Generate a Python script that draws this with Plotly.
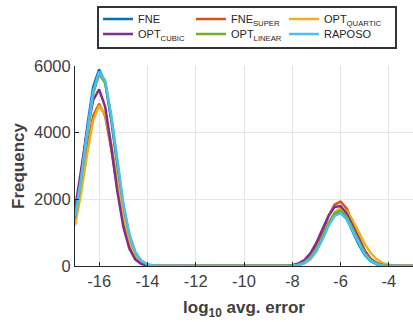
import plotly.graph_objects as go

# x bins: log10 avg. error, -17 to -3 in steps of 0.25 (57 points)
x_vals = [-17.0, -16.75, -16.5, -16.25, -16.0, -15.75, -15.5, -15.25, -15.0, -14.75,
          -14.5, -14.25, -14.0, -13.75, -13.5, -13.25, -13.0, -12.75, -12.5, -12.25,
          -12.0, -11.75, -11.5, -11.25, -11.0, -10.75, -10.5, -10.25, -10.0, -9.75,
          -9.5, -9.25, -9.0, -8.75, -8.5, -8.25, -8.0, -7.75, -7.5, -7.25,
          -7.0, -6.75, -6.5, -6.25, -6.0, -5.75, -5.5, -5.25, -5.0, -4.75,
          -4.5, -4.25, -4.0, -3.75, -3.5, -3.25, -3.0]

ZEROS20 = [0] * 20  # -13.25 .. -8.5

fne = ([1525, 2729, 4151, 5366, 5897, 5508, 4372, 2950, 1692, 825, 342, 120, 36, 9, 2]
       + ZEROS20 +
       [2, 9, 33, 96, 237, 494, 863, 1268, 1568, 1629, 1422, 1045, 645, 334, 146, 54, 16, 4, 1, 0, 0, 0])
fne_super = ([1354, 2371, 3536, 4495, 4870, 4490, 3519, 2343, 1326, 638, 261, 91, 27, 7, 2]
             + ZEROS20 +
             [3, 14, 45, 126, 298, 599, 1026, 1492, 1841, 1934, 1726, 1309, 845, 462, 215, 85, 29, 8, 2, 0, 0, 0])
opt_quartic = ([1213, 2184, 3345, 4353, 4814, 4535, 3651, 2509, 1473, 739, 317, 116, 36, 10, 2]
               + ZEROS20 +
               [1, 7, 25, 77, 200, 437, 801, 1237, 1605, 1750, 1648, 1375, 1017, 667, 388, 200, 91, 37, 13, 4, 1, 0])
opt_cubic = ([1699, 2820, 4035, 4978, 5298, 4773, 3594, 2261, 1189, 523, 192, 59, 15, 3, 1]
             + ZEROS20 +
             [8, 25, 73, 179, 380, 698, 1104, 1506, 1772, 1799, 1574, 1189, 774, 435, 211, 88, 32, 10, 3, 1, 0, 0])
opt_linear = ([1440, 2574, 3941, 5153, 5755, 5486, 4471, 3114, 1850, 940, 408, 152, 48, 13, 1]
              + ZEROS20 +
              [3, 12, 39, 108, 257, 516, 883, 1284, 1585, 1665, 1486, 1127, 727, 398, 185, 73, 25, 7, 2, 0, 0, 0])
raposo = ([1460, 2610, 3996, 5225, 5835, 5562, 4533, 3157, 1876, 953, 414, 154, 49, 13, 1]
          + ZEROS20 +
          [2, 8, 29, 86, 215, 454, 805, 1200, 1504, 1584, 1403, 1045, 654, 344, 152, 56, 18, 5, 1, 0, 0, 0])

series_names = ["FNE", "FNE<sub>SUPER</sub>", "OPT<sub>QUARTIC</sub>",
                "OPT<sub>CUBIC</sub>", "OPT<sub>LINEAR</sub>", "RAPOSO"]
series_data = [fne, fne_super, opt_quartic, opt_cubic, opt_linear, raposo]
series_colors = ["#0072BD", "#D95319", "#EDB120", "#7E2F8E", "#77AC30", "#4DBEEE"]
legend_rows = ["legend", "legend", "legend", "legend2", "legend2", "legend2"]

x_tickvals = [-16, -14, -12, -10, -8, -6, -4]
x_ticktext = ["-16", "-14", "-12", "-10", "-8", "-6", "-4"]
y_tickvals = [0, 2000, 4000, 6000]
y_ticktext = ["0", "2000", "4000", "6000"]

fig = go.Figure()
for i, (name, ys, col, lg) in enumerate(zip(series_names, series_data, series_colors, legend_rows)):
    fig.add_trace(go.Scatter(x=x_vals, y=ys, mode="lines", name=name, legend=lg,
                             legendwidth=(80 if i % 3 == 2 else 48),
                             line=dict(color=col, width=2.5)))

axis_color = "#262626"
tick_font = dict(family="Liberation Sans, Arial, sans-serif", size=16.5, color="#404040")
title_font = dict(family="Liberation Sans, Arial, sans-serif", size=17, color="#404040", weight="bold")
legend_font = dict(family="Liberation Sans, Arial, sans-serif", size=11, color="#262626")

legend_common = dict(orientation="h", xanchor="left", yanchor="top",
                     bgcolor="rgba(0,0,0,0)", borderwidth=0, font=legend_font,
                     itemwidth=30, tracegroupgap=0)

fig.update_layout(
    width=413, height=322,
    margin=dict(l=75, r=0, t=66, b=56, autoexpand=False),
    paper_bgcolor="white", plot_bgcolor="white",
    showlegend=True,
    legend=dict(x=0.068, y=1.308, **legend_common),
    legend2=dict(x=0.068, y=1.232, **legend_common),
    shapes=[dict(type="rect", xref="paper", yref="paper",
                 x0=(98 - 75) / 338, x1=(396 - 75) / 338,
                 y0=(266 - 48) / 200, y1=(266 - 7) / 200,
                 line=dict(color="#333333", width=2), fillcolor="white", layer="above")],
)
fig.update_xaxes(
    range=[-17, -3], tickvals=x_tickvals, ticktext=x_ticktext,
    showline=True, linecolor=axis_color, linewidth=1,
    ticks="inside", ticklen=4, tickcolor=axis_color,
    showgrid=True, gridcolor="#e6e6e6", gridwidth=1, zeroline=False,
    tickfont=tick_font,
    title=dict(text="log<sub>10</sub> avg. error", font=title_font, standoff=12),
)
fig.update_yaxes(
    range=[0, 6000], tickvals=y_tickvals, ticktext=y_ticktext,
    showline=True, linecolor=axis_color, linewidth=1,
    ticks="inside", ticklen=4, tickcolor=axis_color,
    showgrid=True, gridcolor="#e6e6e6", gridwidth=1, zeroline=False,
    tickfont=tick_font,
    title=dict(text="Frequency", font=title_font, standoff=5),
)

fig.write_html("out.html", config={"displayModeBar": False},
               post_script="document.body.style.margin='0';document.body.style.padding='0';")
